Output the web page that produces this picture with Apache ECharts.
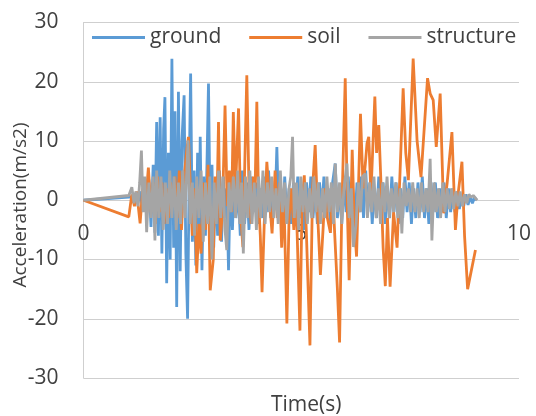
<!DOCTYPE html>
<html>
<head>
<meta charset="utf-8">
<script src="https://cdn.jsdelivr.net/npm/echarts@6/dist/echarts.min.js"></script>
<style>html,body{margin:0;padding:0;background:#fff}#c{width:536px;height:416px}</style>
</head>
<body>
<div id="c"></div>
<script>
// ---- data ----
const seriesNames = ["ground", "soil", "structure"];
const xTicks = [0, 5, 10];
const yTicks = [-30, -20, -10, 0, 10, 20, 30];

const groundT = [0,1.20,1.25,1.30,1.35,1.40,1.45,1.50,1.55,1.60,1.64,1.68,1.72,1.76,1.80,1.84,1.87,1.91,1.95,1.99,2.03,2.07,2.10,2.14,2.18,2.22,2.26,2.31,2.35,2.39,2.43,2.46,2.50,2.54,2.58,2.62,2.66,2.68,2.72,2.76,2.80,2.84,2.87,2.91,2.95,2.99,3.03,3.08,3.12,3.17,3.21,3.25,3.29,3.33,3.37,3.42,3.46,3.50,3.55,3.60,3.65,3.70,3.75,3.80,3.85,3.90,3.95,4.00,4.05,4.10,4.15,4.20,4.25,4.30,4.35,4.40,4.44,4.48,4.52,4.57,4.62,4.67,4.72,4.77,4.82,4.87,4.92,4.97,5.02,5.07,5.12,5.17,5.22,5.27,5.32,5.37,5.42,5.47,5.52,5.57,5.62,5.67,5.72,5.78,5.83,5.88,5.93,5.98,6.03,6.08,6.13,6.18,6.23,6.28,6.33,6.38,6.43,6.48,6.53,6.58,6.63,6.68,6.73,6.78,6.83,6.88,6.93,6.98,7.03,7.08,7.13,7.18,7.23,7.28,7.33,7.38,7.43,7.48,7.53,7.58,7.63,7.68,7.73,7.78,7.83,7.88,7.93,7.98,8.03,8.08,8.13,8.18,8.23,8.28,8.33,8.38,8.43,8.48,8.53,8.58,8.63,8.68,8.73,8.78,8.83,8.88,8.93,8.98,9.02];
const groundV = [0,0.6,-0.5,1.5,-1.2,2.5,-2.5,3.5,-4.5,6,-5.5,13.2,-6,14,-9,12,17.4,-14,8,-10,23.9,-8,15,-18,18.3,-12,10,17.7,-9,-20,6,21.4,-7,5,-11,8,-4,10.7,-11.8,4,-6,8,19.7,-5,6,-8,3,-6,5,-7,4,-3,2,-11.8,3,-5,4,-3,2,-6,5,-4,3,-5,4,-2,3,-4,2,-3,4,-2,5,-3,2,-1,9,-2,3,-5,4,-3,2,-4,3,-2,4,-3,2,-5,3,-2,4,-3,2,-4,3,-2,4,-3,2,-4,3,6.2,-3,2,-4,3,-2,4,-3,2,-4,3,-2,4,-3,5,-2,3,-4,2,-3,4,-2,3,-4,2,-3,4,-2,3,-4,2,-3,4,-2,3,-4,2,-3,3,-2,4,-3,2,-4,3,-2,3,-3,2,-2,3,-3,2,-2,2,-2,1.5,-1.5,1,-1,1,-0.8,0.6,-0.5,0.5,0];

const soilT = [0,1.04,1.11,1.17,1.22,1.30,1.36,1.42,1.49,1.55,1.60,1.65,1.70,1.75,1.80,1.85,1.90,1.95,2.00,2.05,2.10,2.15,2.20,2.25,2.30,2.37,2.41,2.46,2.50,2.55,2.60,2.65,2.70,2.75,2.80,2.86,2.91,2.98,3.02,3.06,3.10,3.14,3.19,3.25,3.30,3.35,3.40,3.44,3.49,3.56,3.61,3.66,3.70,3.75,3.80,3.85,3.90,3.94,3.98,4.02,4.06,4.10,4.15,4.21,4.27,4.33,4.40,4.45,4.50,4.55,4.60,4.67,4.72,4.77,4.83,4.88,4.97,5.02,5.07,5.12,5.20,5.26,5.32,5.38,5.44,5.50,5.55,5.60,5.67,5.72,5.77,5.83,5.88,5.93,6.01,6.06,6.10,6.17,6.22,6.27,6.36,6.42,6.47,6.51,6.55,6.60,6.69,6.73,6.78,6.83,6.88,6.93,6.98,7.04,7.12,7.20,7.27,7.34,7.40,7.46,7.57,7.66,7.75,7.90,7.96,8.03,8.10,8.19,8.27,8.35,8.46,8.54,8.60,8.69,8.75,8.82,9.00];
const soilV = [0,-2.8,1,-1,1.5,-3.9,2,-1,5.5,-2,3,-4,4,-2,3,-4,2,-3,3,-1,4,-3,5,-5,3,8.4,10.7,1,-6,2,-12.3,-4,-9,3,-5,6,-15.2,-10,4,-3,13.2,-6.8,-2,16,-1,5,-2,14.9,1.7,15.5,-2.5,-7.9,5,21.1,2,-4,4,2,16.6,0,-6,-15.5,-4,6.5,0,-5.6,5,-3,3,-8,1,-20.8,-3,2,-5,1,-22,0,4.2,-6,-24.5,2,9.3,-3,-12.6,-5,2,-3,-5.5,2,-6,-15,-24,-2,20.6,-2,-13.5,8.5,-4,-9.5,14.6,2,6,9.6,10.7,1,17.5,8,12.7,3,-8,-14.5,-3,-14.6,-2,-8,5,18.9,8,3.4,23.9,10,3.9,20.6,18,16.9,9,18,-2.2,2.9,11.5,-5,1,6.5,-6,-15,-8.4];

const structureT = [0,1.04,1.11,1.16,1.20,1.25,1.29,1.33,1.37,1.41,1.45,1.50,1.55,1.60,1.64,1.68,1.73,1.78,1.83,1.88,1.93,1.98,2.03,2.08,2.13,2.18,2.23,2.28,2.33,2.40,2.45,2.50,2.55,2.60,2.65,2.70,2.75,2.80,2.85,2.90,2.95,3.00,3.05,3.10,3.15,3.20,3.25,3.29,3.34,3.39,3.44,3.49,3.54,3.59,3.63,3.67,3.72,3.77,3.82,3.87,3.92,3.97,4.02,4.07,4.12,4.17,4.22,4.27,4.32,4.37,4.42,4.47,4.52,4.57,4.62,4.67,4.72,4.76,4.80,4.84,4.89,4.94,4.99,5.04,5.09,5.14,5.19,5.24,5.29,5.34,5.39,5.44,5.49,5.54,5.59,5.64,5.69,5.74,5.78,5.83,5.88,5.93,5.98,6.05,6.10,6.15,6.20,6.26,6.31,6.36,6.41,6.47,6.52,6.57,6.62,6.67,6.72,6.77,6.82,6.87,6.92,6.97,7.02,7.07,7.12,7.17,7.22,7.27,7.31,7.36,7.41,7.46,7.51,7.56,7.61,7.66,7.71,7.76,7.81,7.86,7.91,7.96,8.00,8.05,8.10,8.15,8.20,8.25,8.30,8.35,8.40,8.45,8.50,8.55,8.60,8.65,8.70,8.75,8.80,8.85,8.90,8.95,9.04];
const structureV = [0,0.8,2.2,-0.5,1.5,-1,3,8.4,-2,4,-5.4,3,-3,4,-6.8,5,-3,4,-5,3,-4,5,-3,4,-5,3,-4,5,-3,10.1,-4,3,-6,4,-3,5,-7,3,-4,4,-10,3,-4,5,-3,4,-5,-8.4,3,-2,4,-3,5,-4,3,-9,4,-3,5,-4,3,-5,4,-3,5,-4,3,-2,4,-3,2,-4,5,-2,3,-4,2,4,10.7,-3,3,-5,4,-2,3,-4,2,-3,4,-2,3,-4,2,-3,4,-2,3,-4,6.2,-2,3,-4,2,6.2,-3,2,-7.9,-4,3,-2,4,4.5,-3,3,-2,4,-3,2,-4,3,-2,4,-3,2,-2,3,-3,2,-5.6,3,-1,2,-2,3,-2,2,-3,3,-2,2,-2,7,-6.8,3,-2,2,-3,3,-2,2,-1.5,2,-1.5,1.5,-1,1.5,-1,1,-0.5,1,0.5,0.8,0];

const colors = ["#5B9BD5", "#ED7D31", "#A5A5A5"];

function pairs(t, v) { return t.map((x, i) => [x, v[i]]); }

const FONT = "'Open Sans', sans-serif";
const TXT = "#404040";
const GRID = "#cfcfcf";
const GRID_TOP = 22.5, GRID_BOTTOM = 38, H = 416;
const plotH = H - GRID_TOP - GRID_BOTTOM;
// x axis sits at value 0 of the y axis (middle of the symmetric -30..30 range)
const xAxisOffset = -plotH * (0 - yTicks[0]) / (yTicks[yTicks.length - 1] - yTicks[0]);

const chart = echarts.init(document.getElementById('c'), null, {renderer: 'canvas'});
chart.setOption({
  animation: false,
  backgroundColor: '#fff',
  color: colors,
  grid: {left: 83.5, right: 17, top: GRID_TOP, bottom: GRID_BOTTOM, containLabel: false},
  legend: {
    data: seriesNames,
    left: 92, top: 27, padding: 0,
    icon: 'rect', itemWidth: 53, itemHeight: 3, itemGap: 28,
    textStyle: {fontFamily: FONT, fontSize: 21, color: TXT}
  },
  xAxis: {
    type: 'value', min: xTicks[0], max: xTicks[xTicks.length - 1], interval: 5,
    position: 'bottom', offset: xAxisOffset,
    axisLine: {show: true, onZero: false, lineStyle: {color: GRID, width: 1}},
    axisTick: {show: false},
    splitLine: {show: false},
    axisLabel: {fontFamily: FONT, fontSize: 21, color: TXT, margin: 23}
  },
  yAxis: {
    type: 'value', min: yTicks[0], max: yTicks[yTicks.length - 1], interval: 10,
    axisLine: {show: true, onZero: false, lineStyle: {color: GRID, width: 1}},
    axisTick: {show: false},
    splitLine: {show: true, lineStyle: {color: GRID, width: 1}},
    axisLabel: {fontFamily: FONT, fontSize: 21, color: TXT, margin: 25}
  },
  graphic: [
    {type: 'text', left: 271, top: 395, style: {text: 'Time(s)', font: "21px 'Open Sans', sans-serif", fill: TXT}},
    {type: 'text', x: 21, y: 205, rotation: Math.PI / 2, style: {text: 'Acceleration(m/s2)', font: "19px 'Open Sans', sans-serif", fill: TXT, align: 'center', verticalAlign: 'middle'}}
  ],
  series: [
    {name: seriesNames[0], type: 'line', showSymbol: false, data: pairs(groundT, groundV), lineStyle: {width: 2.8}},
    {name: seriesNames[1], type: 'line', showSymbol: false, data: pairs(soilT, soilV), lineStyle: {width: 2.8}},
    {name: seriesNames[2], type: 'line', showSymbol: false, data: pairs(structureT, structureV), lineStyle: {width: 2.8}}
  ]
});
</script>
</body>
</html>
